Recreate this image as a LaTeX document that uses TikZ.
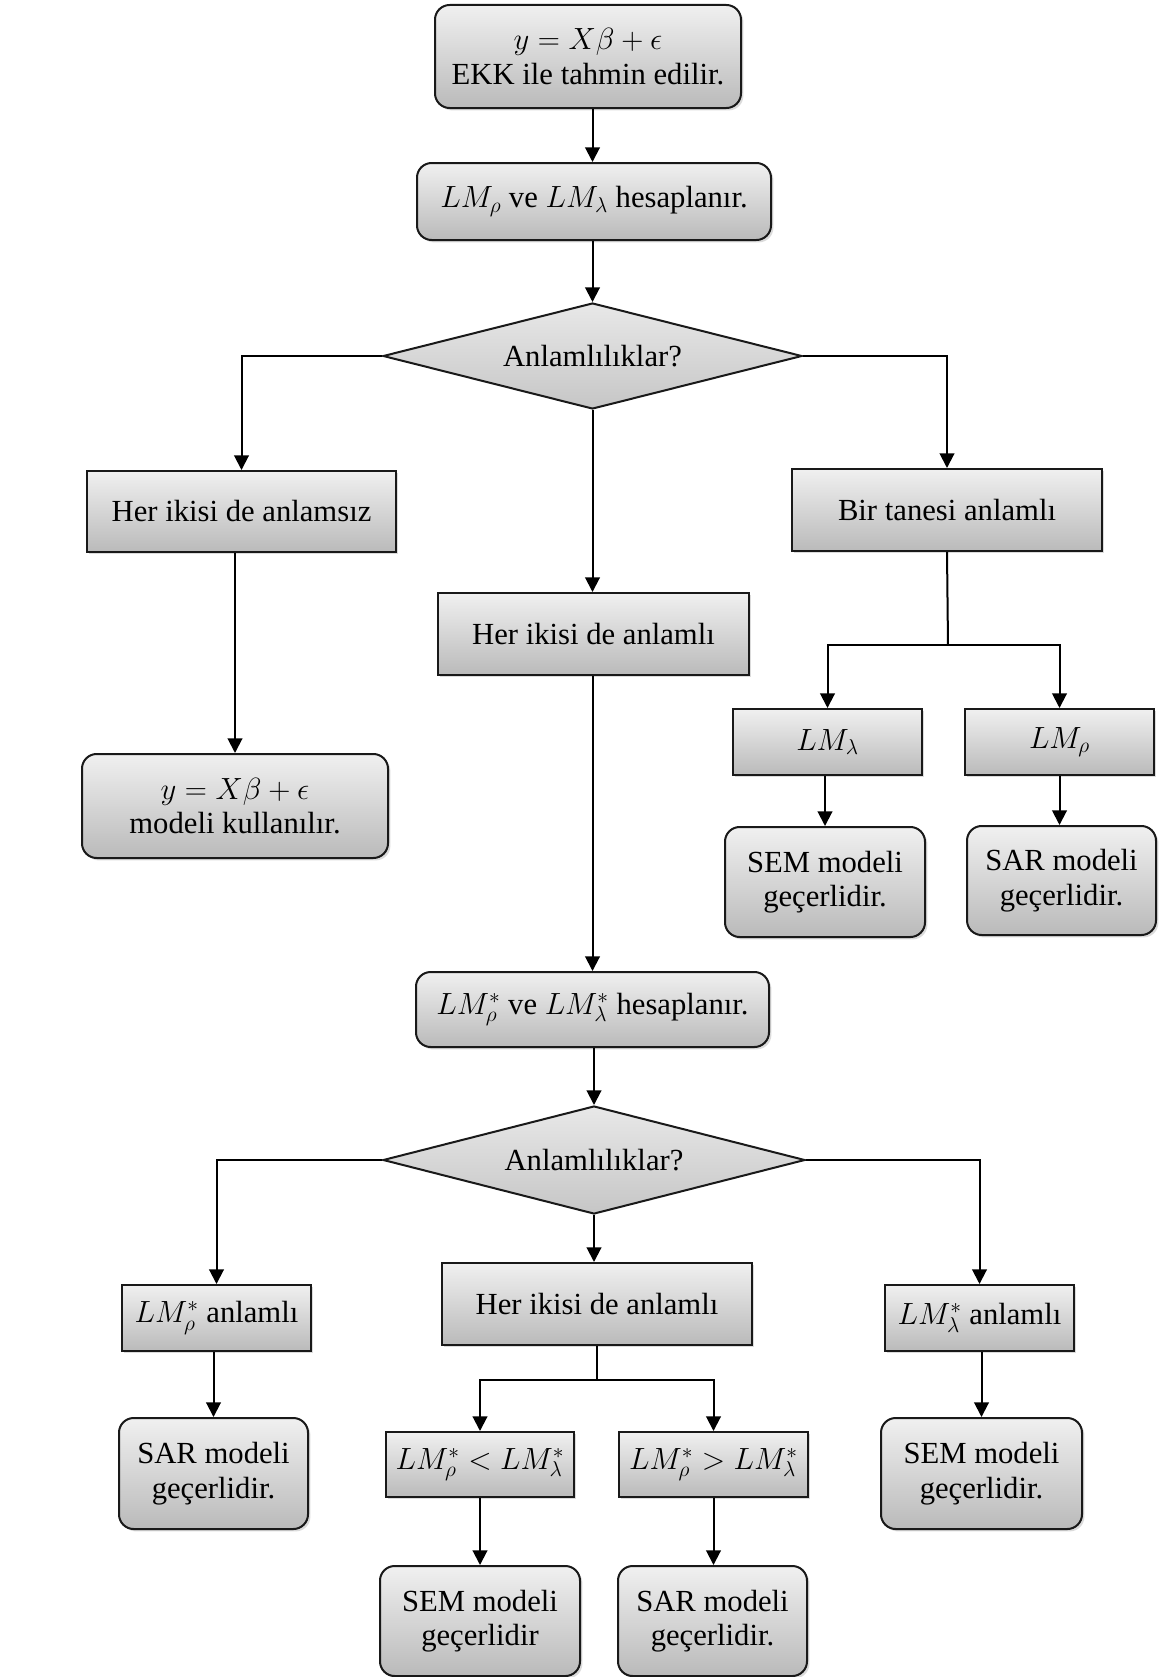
\documentclass[tikz,border=0pt]{standalone}
\usepackage{fix-cm}
\usepackage{fontspec}
\setmainfont{Liberation Serif}
\usetikzlibrary{shapes.geometric,arrows.meta,shadows}
\newcommand{\pxu}{*0.75pt}
\definecolor{boxtop}{HTML}{F0F0F0}
\definecolor{boxbot}{HTML}{BABABA}
\definecolor{dtop}{HTML}{E8E8E8}
\definecolor{dbot}{HTML}{C6C6C6}
\tikzset{
  base/.style={draw=black!90, line width=1.5pt, inner sep=0pt, align=center,
    font=\fontsize{23}{26}\selectfont},
  shadowed/.style={drop shadow={shadow xshift=1.8pt,shadow yshift=-1.8pt,opacity=0.28}},
  sqbox/.style={base, shadowed, rectangle, top color=boxtop, bottom color=boxbot},
  rbox/.style={base, shadowed, rectangle, rounded corners=11pt, top color=boxtop, bottom color=boxbot},
  decision/.style={base, diamond, aspect=3.95, top color=dtop, bottom color=dbot},
  conn/.style={line width=1.5pt, draw=black},
  arr/.style={conn, -{Triangle[width=11pt,length=11pt]}},
}
\begin{document}
\begin{tikzpicture}[x=0.75pt,y=-0.75pt]
\fill[white] (0,0) rectangle (1160,1677);
\useasboundingbox (0,0) rectangle (1160,1677);

% top part
\node[rbox, minimum width=306\pxu, minimum height=103\pxu] (top) at (588,56.5)
  {$y = X\beta + \epsilon$\\EKK ile tahmin edilir.};
\node[rbox, minimum width=354\pxu, minimum height=77\pxu] (lm) at (594,201.5)
  {$LM_\rho$ ve $LM_\lambda$ hesaplanır.};
\node[decision, minimum width=419\pxu, minimum height=106\pxu] (d1) at (592.5,356)
  {Anlamlılıklar?};

\node[sqbox, minimum width=309\pxu, minimum height=81\pxu] (L1) at (241.5,511.5)
  {Her ikisi de anlamsız};
\node[rbox, minimum width=306\pxu, minimum height=104\pxu] (L2) at (235,806)
  {$y = X\beta + \epsilon$\\modeli kullanılır.};

\node[sqbox, minimum width=311\pxu, minimum height=82\pxu] (M1) at (593.5,634)
  {Her ikisi de anlamlı};

\node[sqbox, minimum width=310\pxu, minimum height=82\pxu] (R1) at (947,510)
  {Bir tanesi anlamlı};
\node[sqbox, minimum width=189\pxu, minimum height=66\pxu] (R2a) at (827.5,742)
  {$LM_\lambda$};
\node[sqbox, minimum width=189\pxu, minimum height=66\pxu] (R2b) at (1059.5,742)
  {$LM_\rho$};
\node[rbox, minimum width=200\pxu, minimum height=110\pxu] (R3a) at (825,882)
  {SEM modeli\\geçerlidir.};
\node[rbox, minimum width=189\pxu, minimum height=109\pxu] (R3b) at (1061.5,880.5)
  {SAR modeli\\geçerlidir.};

% lower part
\node[rbox, minimum width=353\pxu, minimum height=75\pxu] (lm2) at (592.5,1009.5)
  {$LM^*_\rho$ ve $LM^*_\lambda$ hesaplanır.};
\node[decision, minimum width=422\pxu, minimum height=108\pxu] (d2) at (594,1160)
  {Anlamlılıklar?};

\node[sqbox, minimum width=189\pxu, minimum height=66\pxu] (B1) at (216.5,1318)
  {$LM^*_\rho$ anlamlı};
\node[rbox, minimum width=189\pxu, minimum height=111\pxu] (B2) at (213.5,1473.5)
  {SAR modeli\\geçerlidir.};

\node[sqbox, minimum width=310\pxu, minimum height=82\pxu] (M2) at (597,1304)
  {Her ikisi de anlamlı};
\node[sqbox, minimum width=188\pxu, minimum height=65\pxu] (M3a) at (480,1464.5)
  {$LM^*_\rho < LM^*_\lambda$};
\node[sqbox, minimum width=189\pxu, minimum height=65\pxu] (M3b) at (713.5,1464.5)
  {$LM^*_\rho > LM^*_\lambda$};
\node[rbox, minimum width=200\pxu, minimum height=110\pxu] (M4a) at (480,1621)
  {SEM modeli\\geçerlidir};
\node[rbox, minimum width=189\pxu, minimum height=110\pxu] (M4b) at (712.5,1621)
  {SAR modeli\\geçerlidir.};

\node[sqbox, minimum width=189\pxu, minimum height=66\pxu] (B3) at (979.5,1318)
  {$LM^*_\lambda$ anlamlı};
\node[rbox, minimum width=201\pxu, minimum height=111\pxu] (B4) at (981.5,1473.5)
  {SEM modeli\\geçerlidir.};

% connectors
\coordinate (s1) at (948,645);
\coordinate (s2) at (597,1380);

\draw[arr] (top.south -| d1.north) -- (d1.north |- lm.north);
\draw[arr] (lm.south -| d1.north) -- (d1.north);
\draw[arr] (d1.west) -| (L1.north);
\draw[arr] (d1.south) -- (d1.south |- M1.north);
\draw[arr] (d1.east) -| (R1.north);
\draw[arr] (L1.south -| L2.north) -- (L2.north);
\draw[conn] (R1.south) -- (s1);
\draw[arr] (s1) -| (R2a.north);
\draw[arr] (s1) -| (R2b.north);
\draw[arr] (R3a.north |- R2a.south) -- (R3a.north);
\draw[arr] (R2b.south) -- (R2b.south |- R3b.north);
\draw[arr] (M1.south -| d1.south) -- (d1.south |- lm2.north);
\draw[arr] (lm2.south -| d2.north) -- (d2.north);
\draw[arr] (d2.west) -| (B1.north);
\draw[arr] (d2.south) -- (d2.south |- M2.north);
\draw[arr] (d2.east) -| (B3.north);
\draw[arr] (B1.south -| B2.north) -- (B2.north);
\draw[arr] (B3.south -| B4.north) -- (B4.north);
\draw[conn] (M2.south) -- (s2);
\draw[arr] (s2) -| (M3a.north);
\draw[arr] (s2) -| (M3b.north);
\draw[arr] (M3a.south) -- (M3a.south |- M4a.north);
\draw[arr] (M3b.south) -- (M3b.south |- M4b.north);
\end{tikzpicture}
\end{document}
